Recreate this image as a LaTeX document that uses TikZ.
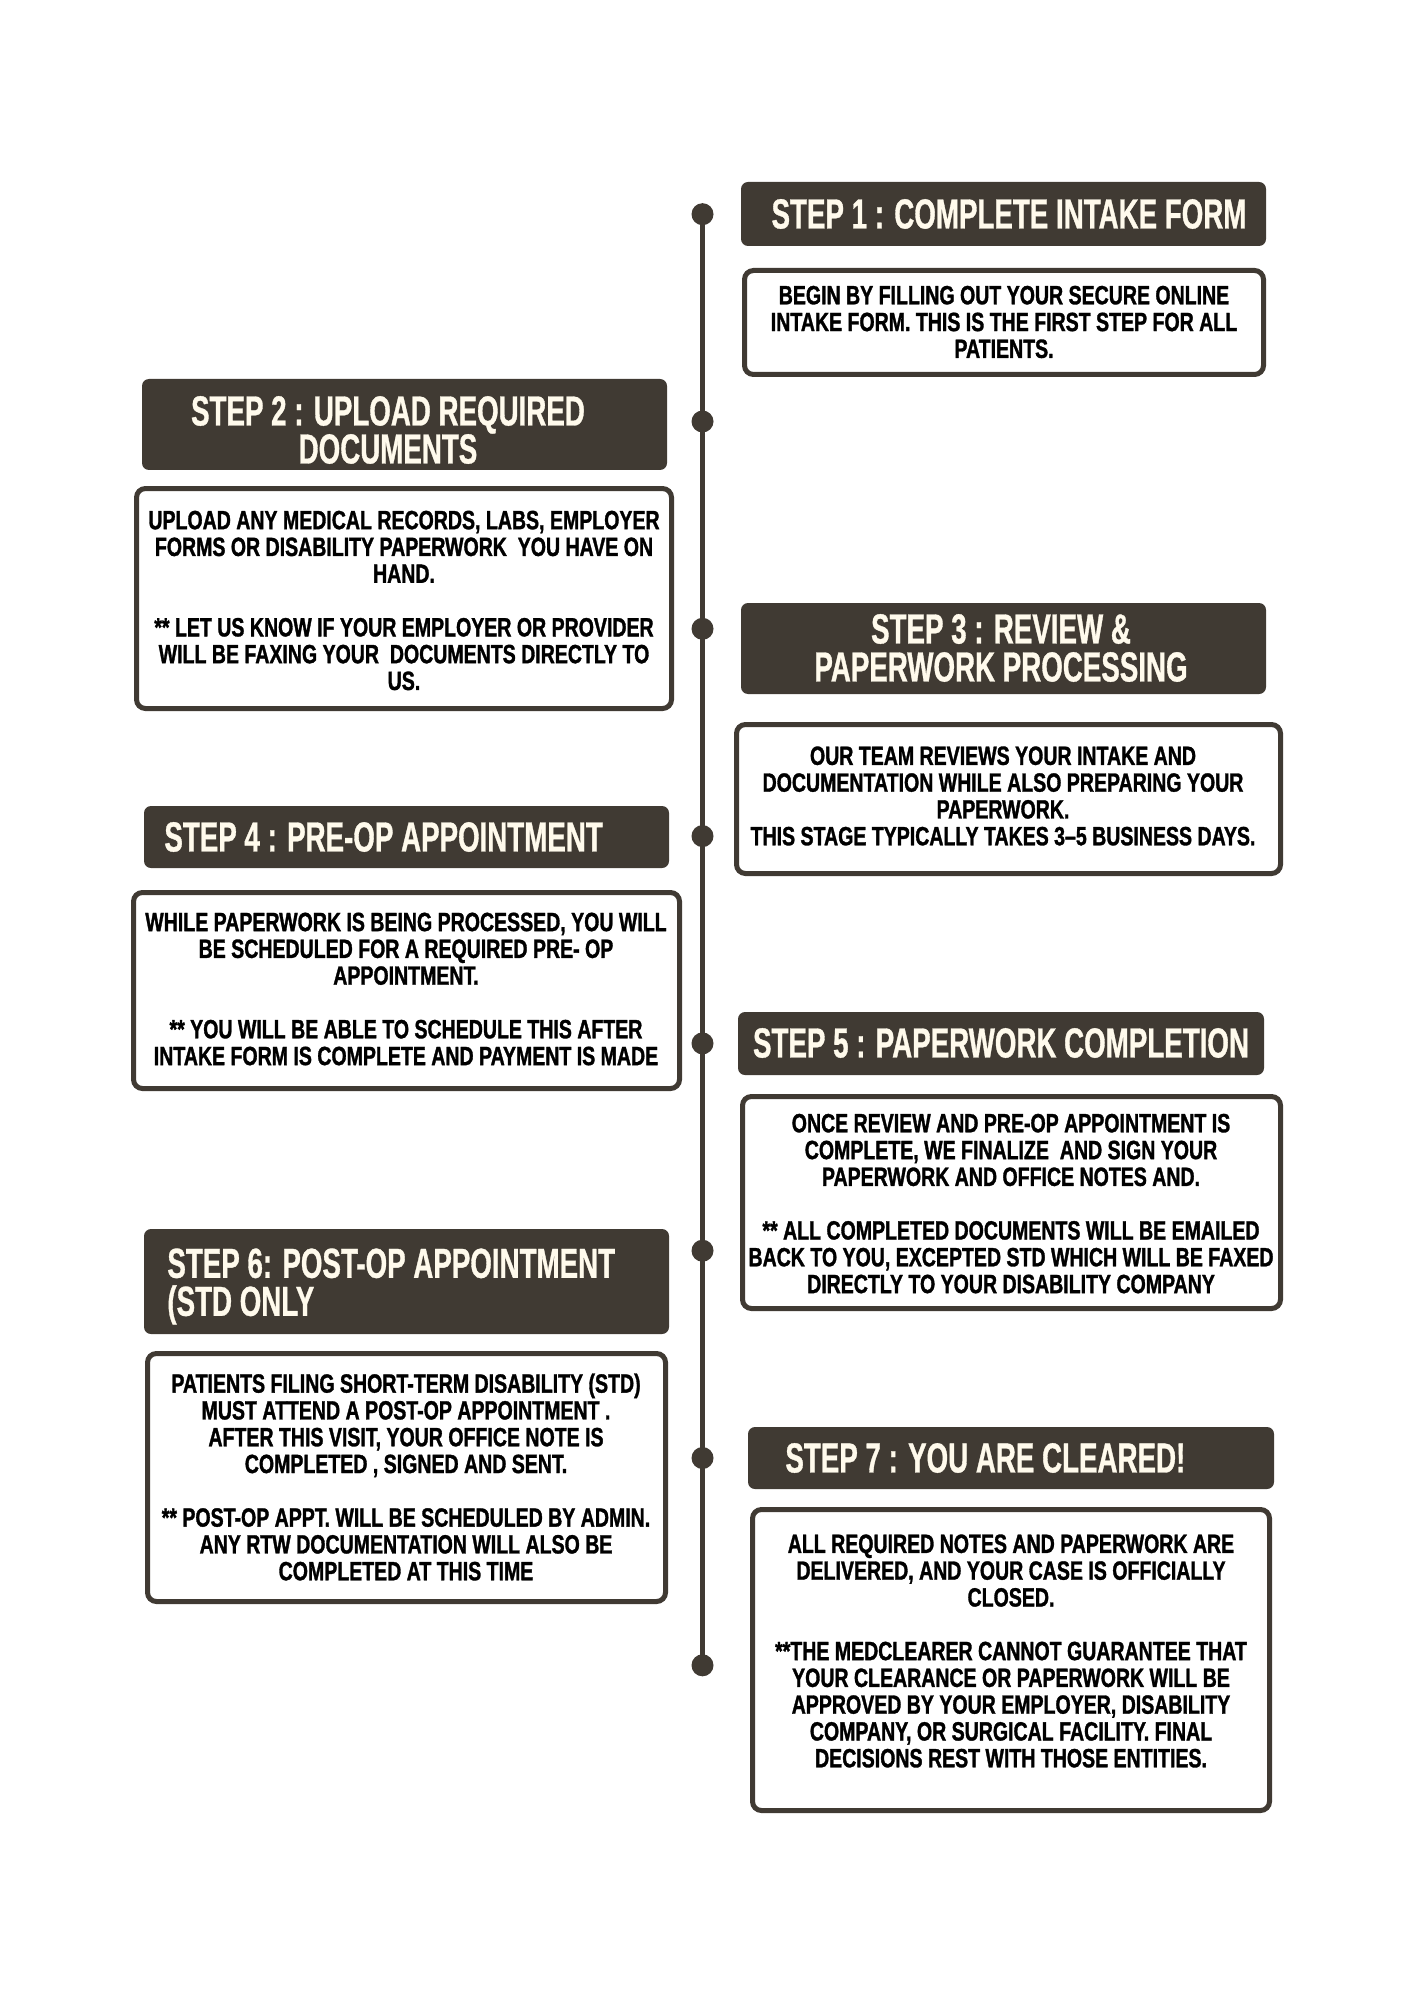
\documentclass[tikz,border=0pt]{standalone}
\usepackage{fontspec}
\setmainfont{Liberation Sans}
\newfontfamily\headfont{Liberation Sans}[FakeStretch=0.66,FakeBold=0.8]
\newfontfamily\bodyfont{Liberation Sans}[FakeStretch=0.74,FakeBold=1.2]
\usetikzlibrary{backgrounds}
\definecolor{dark}{RGB}{64,58,51}
\definecolor{cream}{RGB}{255,250,236}
\begin{document}
\begin{tikzpicture}[x=0.5pt,y=-0.5pt,
  hbox/.style={fill=dark, rounded corners=3.5pt, inner sep=0pt, draw=none},
  bbox/.style={draw=dark, line width=2.5pt, fill=white, rounded corners=4.5pt, inner sep=0pt},
  htext/.style={font=\headfont\bfseries\fontsize{21}{19}\selectfont, text=cream, inner sep=0pt},
  btext/.style={font=\bodyfont\bfseries\fontsize{13.2}{13.4}\selectfont, text=black, align=center, inner sep=0pt},
  dotnode/.style={circle, fill=dark, minimum size=11pt, inner sep=0pt},
  tline/.style={draw=dark, line width=2.5pt}
]
\useasboundingbox (0,0) rectangle (1414,2000);

% timeline dots
\foreach \i/\y in {1/214.2,2/421.5,3/628.8,4/836.1,5/1043.4,6/1250.7,7/1458,8/1665.3}
  \node[dotnode] (d\i) at (702.5,\y) {};
\begin{pgfonlayer}{background}
  \fill[white] (0,0) rectangle (1414,2000);
  \draw[tline] (d1.center) -- (d8.center);
\end{pgfonlayer}

% header boxes
\node[hbox, minimum width=262.5pt, minimum height=32pt] (h1) at (1003.5,214) {};
\node[hbox, minimum width=262.5pt, minimum height=45.5pt] (h2) at (404.5,424.5) {};
\node[hbox, minimum width=262.5pt, minimum height=45.5pt] (h3) at (1003.5,648.5) {};
\node[hbox, minimum width=262.5pt, minimum height=31pt] (h4) at (406.5,837) {};
\node[hbox, minimum width=263pt, minimum height=31.5pt] (h5) at (1001,1043.5) {};
\node[hbox, minimum width=262.5pt, minimum height=52.5pt] (h6) at (406.5,1281.5) {};
\node[hbox, minimum width=263pt, minimum height=31pt] (h7) at (1011,1458) {};

% body boxes
\node[bbox, minimum width=259.5pt, minimum height=52pt] (b1) at (1004,322.5) {};
\node[bbox, minimum width=267.5pt, minimum height=110pt] (b2) at (404,598.5) {};
\node[bbox, minimum width=272pt, minimum height=74.5pt] (b3) at (1008.5,799) {};
\node[bbox, minimum width=273pt, minimum height=98pt] (b4) at (406.5,990.5) {};
\node[bbox, minimum width=269pt, minimum height=106pt] (b5) at (1011.5,1202.5) {};
\node[bbox, minimum width=259pt, minimum height=124pt] (b6) at (406.5,1477.5) {};
\node[bbox, minimum width=258.5pt, minimum height=150.5pt] (b7) at (1011,1660) {};

% header texts
\node[htext] (ht1) at (1009,214) {STEP 1 : COMPLETE INTAKE FORM};
\node[htext, align=center] (ht2) at (388,430) {STEP 2 : UPLOAD REQUIRED\\DOCUMENTS};
\node[htext, align=center] (ht3) at (1001,648) {STEP 3 : REVIEW \&\\PAPERWORK PROCESSING};
\node[htext, anchor=west] (ht4) at (164,837) {STEP 4 : PRE-OP APPOINTMENT};
\node[htext] (ht5) at (1001,1043) {STEP 5 : PAPERWORK COMPLETION};
\node[htext, anchor=west, align=left] (ht6) at (167,1286.5) {STEP 6: POST-OP APPOINTMENT\\(STD ONLY};
\node[htext, anchor=west] (ht7) at (785,1458) {STEP 7 : YOU ARE CLEARED!};

% body texts
\node[btext] (bt1) at (1004,322) {BEGIN BY FILLING OUT YOUR SECURE ONLINE\\INTAKE FORM. THIS IS THE FIRST STEP FOR ALL\\PATIENTS.};
\node[btext] (bt2) at (404,600.5) {UPLOAD ANY MEDICAL RECORDS, LABS, EMPLOYER\\FORMS OR DISABILITY PAPERWORK \ YOU HAVE ON\\HAND.\\[13.4pt]** LET US KNOW IF YOUR EMPLOYER OR PROVIDER\\WILL BE FAXING YOUR \ DOCUMENTS DIRECTLY TO\\US.};
\node[btext] (bt3) at (1003,796) {OUR TEAM REVIEWS YOUR INTAKE AND\\DOCUMENTATION WHILE ALSO PREPARING YOUR\\PAPERWORK.\\THIS STAGE TYPICALLY TAKES 3–5 BUSINESS DAYS.};
\node[btext] (bt4) at (406,989) {WHILE PAPERWORK IS BEING PROCESSED, YOU WILL\\BE SCHEDULED FOR A REQUIRED PRE- OP\\APPOINTMENT.\\[13.4pt]** YOU WILL BE ABLE TO SCHEDULE THIS AFTER\\INTAKE FORM IS COMPLETE AND PAYMENT IS MADE};
\node[btext] (bt5) at (1011,1203.6) {ONCE REVIEW AND PRE-OP APPOINTMENT IS\\COMPLETE, WE FINALIZE \ AND SIGN YOUR\\PAPERWORK AND OFFICE NOTES AND.\\[13.4pt]** ALL COMPLETED DOCUMENTS WILL BE EMAILED\\BACK TO YOU, EXCEPTED STD WHICH WILL BE FAXED\\DIRECTLY TO YOUR DISABILITY COMPANY};
\node[btext] (bt6) at (406,1477) {PATIENTS FILING SHORT-TERM DISABILITY (STD)\\MUST ATTEND A POST-OP APPOINTMENT .\\AFTER THIS VISIT, YOUR OFFICE NOTE IS\\COMPLETED , SIGNED AND SENT.\\[13.4pt]** POST-OP APPT. WILL BE SCHEDULED BY ADMIN.\\ANY RTW DOCUMENTATION WILL ALSO BE\\COMPLETED AT THIS TIME};
\node[btext] (bt7) at (1011,1651) {ALL REQUIRED NOTES AND PAPERWORK ARE\\DELIVERED, AND YOUR CASE IS OFFICIALLY\\CLOSED.\\[13.4pt]**THE MEDCLEARER CANNOT GUARANTEE THAT\\YOUR CLEARANCE OR PAPERWORK WILL BE\\APPROVED BY YOUR EMPLOYER, DISABILITY\\COMPANY, OR SURGICAL FACILITY. FINAL\\DECISIONS REST WITH THOSE ENTITIES.};
\end{tikzpicture}
\end{document}
